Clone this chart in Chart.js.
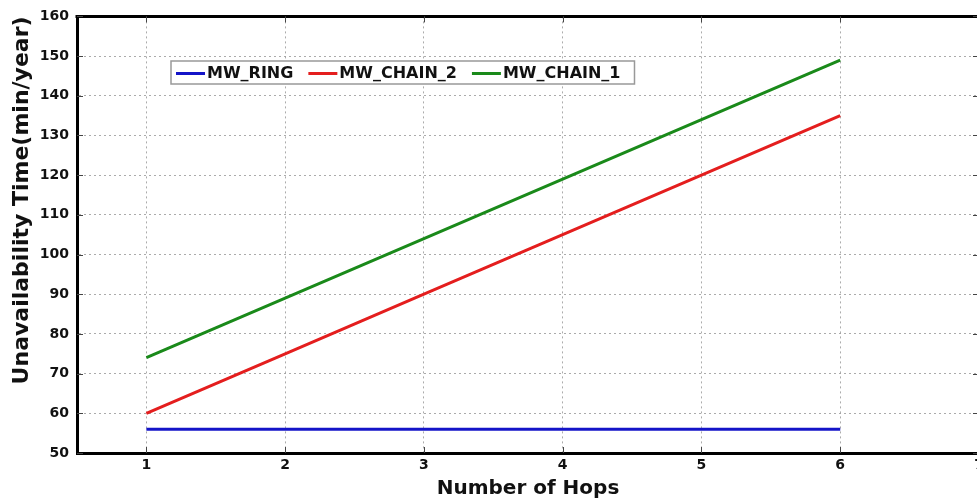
<!DOCTYPE html>
<html>
<head>
<meta charset="utf-8">
<script src="https://cdn.jsdelivr.net/npm/chart.js@4"></script>
<style>
    html, body { margin: 0; padding: 0; background: #fff; overflow: hidden; }
    #myChart { display: block; }
</style>
</head>
<body>
<canvas id="myChart" width="995" height="502"></canvas>
<script>
// chart data
const hops = [1, 2, 3, 4, 5, 6];
const mwRing = [56, 56, 56, 56, 56, 56];
const mwChain2 = [60, 75, 90, 105, 120, 135];
const mwChain1 = [74, 89, 104, 119, 134, 149];
const xTicks = [1, 2, 3, 4, 5, 6, 7];
const yTicks = [50, 60, 70, 80, 90, 100, 110, 120, 130, 140, 150, 160];

const FONT = 'DejaVu Sans';

function toPoints(values) {
    return hops.map((h, i) => ({ x: h, y: values[i] }));
}

// boxed legend inside the plot, MATLAB style
const boxLegend = {
    id: 'boxLegend',
    afterDraw(chart) {
        const ctx = chart.ctx;
        const left = 171, top = 61, height = 23;
        const lineLen = 29, gap = 2, itemGap = 15;
        ctx.save();
        ctx.font = 'bold 16px "' + FONT + '"';
        let width = 5;
        chart.data.datasets.forEach(ds => {
            width += lineLen + gap + ctx.measureText(ds.label).width + itemGap;
        });
        width = width - itemGap + 14;
        ctx.fillStyle = '#fff';
        ctx.fillRect(left, top, width, height);
        ctx.strokeStyle = '#999';
        ctx.lineWidth = 1.5;
        ctx.strokeRect(left, top, width, height);

        let x = left + 5;
        const y = top + height / 2 + 1;
        chart.data.datasets.forEach(ds => {
            ctx.strokeStyle = ds.borderColor;
            ctx.lineWidth = 3;
            ctx.beginPath();
            ctx.moveTo(x, y);
            ctx.lineTo(x + lineLen, y);
            ctx.stroke();
            x += lineLen + gap;
            ctx.fillStyle = '#111';
            ctx.textBaseline = 'middle';
            ctx.fillText(ds.label, x, y);
            x += ctx.measureText(ds.label).width + itemGap;
        });
        ctx.restore();
    }
};

// top border and small inward tick marks
const frame = {
    id: 'frame',
    afterDraw(chart) {
        const ctx = chart.ctx;
        const a = chart.chartArea;
        const xs = chart.scales.x, ys = chart.scales.y;
        ctx.save();
        ctx.strokeStyle = '#000';
        ctx.lineWidth = 3;
        ctx.beginPath();
        ctx.moveTo(a.left - 1.5, a.top);
        ctx.lineTo(a.right, a.top);
        ctx.moveTo(a.right, a.top);
        ctx.lineTo(a.right, a.bottom);
        ctx.stroke();

        ctx.strokeStyle = '#444';
        ctx.lineWidth = 1;
        ctx.beginPath();
        xTicks.forEach(v => {
            const px = Math.round(xs.getPixelForValue(v)) + 0.5;
            ctx.moveTo(px, a.bottom);
            ctx.lineTo(px, a.bottom - 6);
            ctx.moveTo(px, a.top);
            ctx.lineTo(px, a.top + 6);
        });
        yTicks.forEach(v => {
            const py = Math.round(ys.getPixelForValue(v)) + 0.5;
            ctx.moveTo(a.left, py);
            ctx.lineTo(a.left + 6, py);
            ctx.moveTo(a.right, py);
            ctx.lineTo(a.right - 6, py);
        });
        ctx.stroke();
        ctx.restore();
    }
};

const ctx = document.getElementById('myChart').getContext('2d');
const myChart = new Chart(ctx, {
    type: 'line',
    data: {
        datasets: [
            { label: 'MW_RING', data: toPoints(mwRing), borderColor: '#1414c8' },
            { label: 'MW_CHAIN_2', data: toPoints(mwChain2), borderColor: '#e41e1e' },
            { label: 'MW_CHAIN_1', data: toPoints(mwChain1), borderColor: '#1a8a1a' }
        ]
    },
    options: {
        responsive: false,
        animation: false,
        layout: { padding: { top: 14, left: 0, right: 16, bottom: 0 } },
        elements: {
            line: { borderWidth: 3, tension: 0, fill: false },
            point: { radius: 0, hoverRadius: 0 }
        },
        scales: {
            x: {
                type: 'linear',
                min: 0.5,
                max: 7,
                afterBuildTicks: scale => { scale.ticks = xTicks.map(v => ({ value: v })); },
                afterFit: scale => { scale.height = 49; },
                grid: {
                    drawTicks: false,
                    color: ctx => ctx.tick && ctx.tick.value === 7 ? 'rgba(0,0,0,0)' : 'rgba(150,150,150,0.8)',
                    lineWidth: 1
                },
                border: { color: '#000', width: 3, dash: [2, 3] },
                ticks: {
                    padding: 4,
                    color: '#111',
                    font: { family: FONT, size: 14, weight: 'bold' }
                },
                title: {
                    display: true,
                    text: 'Number of Hops',
                    color: '#111',
                    font: { family: FONT, size: 20, weight: 'bold' },
                    padding: { top: 0, bottom: 1 }
                }
            },
            y: {
                min: 50,
                max: 160,
                afterBuildTicks: scale => { scale.ticks = yTicks.map(v => ({ value: v })); },
                afterFit: scale => { scale.width = 77; },
                grid: {
                    drawTicks: false,
                    color: ctx => ctx.tick && (ctx.tick.value === 50 || ctx.tick.value === 160) ? 'rgba(0,0,0,0)' : 'rgba(150,150,150,0.8)',
                    lineWidth: 1
                },
                border: { color: '#000', width: 3, dash: [2, 3] },
                ticks: {
                    padding: 8,
                    color: '#111',
                    font: { family: FONT, size: 14, weight: 'bold' }
                },
                title: {
                    display: true,
                    text: 'Unavailability Time(min/year)',
                    align: 'end',
                    color: '#111',
                    font: { family: FONT, size: 22, weight: 'bold' },
                    padding: { top: 9, bottom: 0 }
                }
            }
        },
        plugins: {
            legend: { display: false },
            tooltip: { enabled: false }
        }
    },
    plugins: [boxLegend, frame]
});
</script>
</body>
</html>
